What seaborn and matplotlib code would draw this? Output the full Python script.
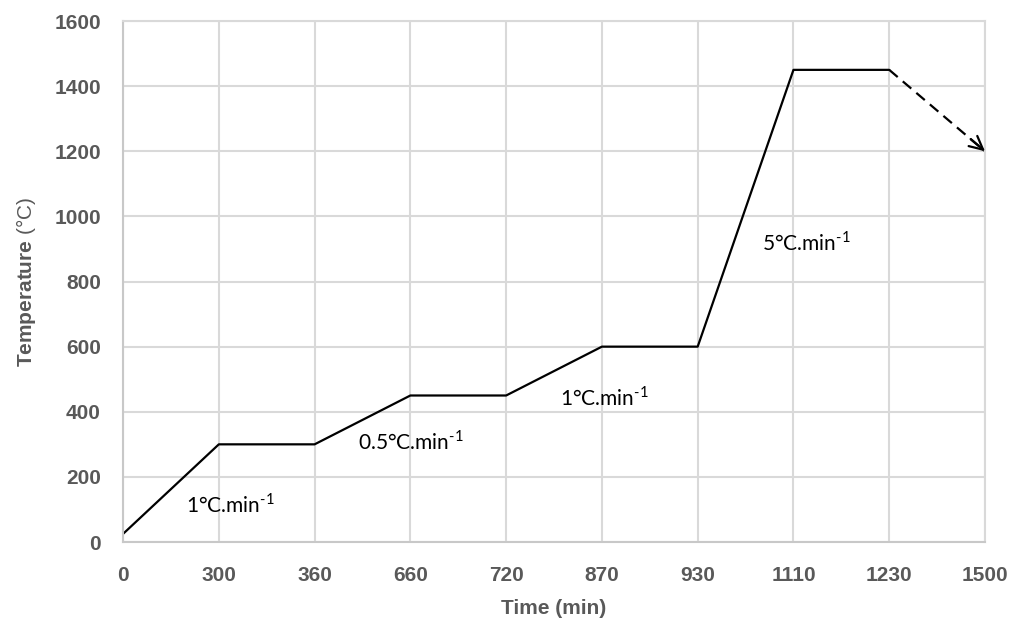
import matplotlib
matplotlib.use("Agg")
import matplotlib.pyplot as plt
import seaborn as sns
import pandas as pd
import numpy as np

times = ["0", "300", "360", "660", "720", "870", "930", "1110", "1230", "1500"]
temps = [25, 300, 300, 450, 450, 600, 600, 1450, 1450, 1200]
rate_labels = [r"1°C.min$^{\text{-1}}$", r"0.5°C.min$^{\text{-1}}$", r"1°C.min$^{\text{-1}}$", r"5°C.min$^{\text{-1}}$"]
rate_pos_x = [0.66, 2.45, 4.56, 6.67]
rate_pos_y = [115, 310, 445, 920]

sns.set_theme(style="white")
plt.rcParams["font.family"] = ["Liberation Sans", "DejaVu Sans"]
plt.rcParams["mathtext.fontset"] = "custom"
plt.rcParams["mathtext.bf"] = "Liberation Sans:bold"
plt.rcParams["mathtext.rm"] = "Lato"

fig = plt.figure(figsize=(10.22, 6.31), dpi=100)
ax = fig.add_axes([0.1204, 0.141, 0.8434, 0.8257])

idx = np.arange(len(times))
df = pd.DataFrame({"pos": idx[:9], "temp": temps[:9]})
sns.lineplot(data=df, x="pos", y="temp", ax=ax, color="black", lw=1.6)

# dashed cooling segment with arrow
seg = pd.DataFrame({"pos": idx[8:], "temp": temps[8:]})
sns.lineplot(data=seg, x="pos", y="temp", ax=ax, color="black", lw=1.6, linestyle=(0, (5, 3)))
t0 = 0.85
ax.annotate("", xy=(idx[9], temps[9]),
            xytext=(idx[8] + t0 * (idx[9] - idx[8]), temps[8] + t0 * (temps[9] - temps[8])),
            arrowprops=dict(arrowstyle="->,head_length=0.8,head_width=0.4", color="black", lw=1.6,
                            shrinkA=0, shrinkB=0))

for lab, xx, yy in zip(rate_labels, rate_pos_x, rate_pos_y):
    ax.text(xx, yy, lab, fontsize=15, family=["Lato", "DejaVu Sans"], color="black", va="center", ha="left")

ax.set_xlim(0, 9)
ax.set_ylim(0, 1600)
ax.set_xticks(idx)
ax.set_xticklabels(times)
ax.set_yticks(np.arange(0, 1601, 200))
ax.grid(True, color="#d9d9d9", lw=1.5)
for s in ax.spines.values():
    s.set_color("#d9d9d9")
    s.set_linewidth(1.5)
ax.spines["left"].set_color("#c8c8c8")
ax.spines["bottom"].set_color("#c8c8c8")

ax.tick_params(axis="both", length=0, labelsize=15, labelcolor="#595959")
ax.tick_params(axis="y", pad=16)
ax.tick_params(axis="x", pad=17)
for lab in ax.get_xticklabels() + ax.get_yticklabels():
    lab.set_fontweight("bold")

ax.set_xlabel("Time (min)", fontsize=15, fontweight="bold", color="#595959", labelpad=10)
ax.set_ylabel(r"$\bf{Temperature}$ (°C)", fontsize=15, color="#595959", labelpad=12)

fig.savefig("out.png", dpi=100)
